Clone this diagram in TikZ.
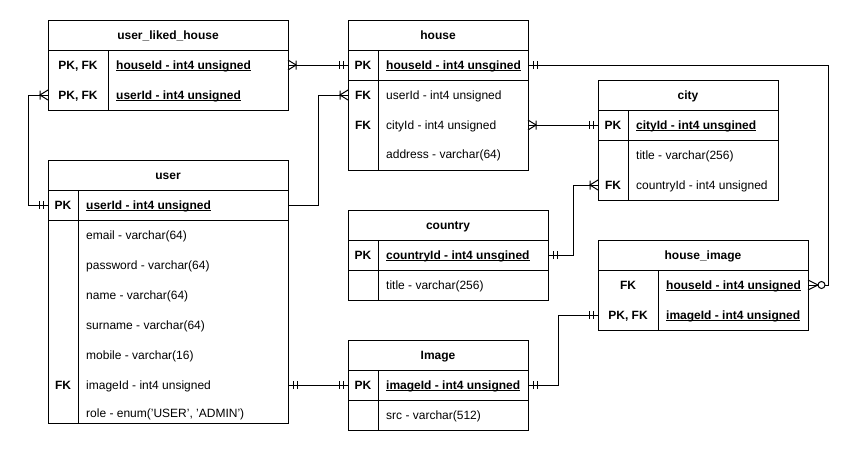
\documentclass[tikz,border=0pt]{standalone}
\usepackage{fontspec}
\setmainfont{Liberation Sans}
\newsavebox\ulbox
\newcommand\ulx[1]{\sbox\ulbox{#1}\rlap{\rule[-1.8pt]{\wd\ulbox}{0.9pt}}\usebox\ulbox}
% field row: #1 name, #2 left, #3 divider, #4 right, #5 centre y, #6 key, #7 text
\newcommand\frow[7]{%
  \node[rowanchor, minimum width={#4pt-#2pt}] (#1) at ({(#2+#4)/2},#5) {};
  \node[keytxt] (#1-k) at ({(#2+#3)/2},{#5+4.5}) {#6};
  \node[fldtxt] (#1-f) at ({#3+8},{#5+4.5}) {#7};}
% title: #1 name, #2 left, #3 right, #4 top, #5 text
\newcommand\ttl[5]{\node[ttltxt] (#1) at ({(#2+#3)/2},{#4+15+4.5}) {#5};}
\newcommand\mOne[2]{\begin{scope}[shift={(#1)},xscale=#2]\draw[mk] (5,-4)--(5,4) (9,-4)--(9,4);\end{scope}}
\newcommand\mMany[2]{\begin{scope}[shift={(#1)},xscale=#2]\draw[mk] (0,-5)--(8,0)--(0,5) (8,-4.5)--(8,4.5);\end{scope}}
\newcommand\mZeroMany[2]{\begin{scope}[shift={(#1)},xscale=#2]\draw[mk] (0,-5)--(10,0)--(0,5);\draw[mk,fill=white] (13.5,0) circle[radius=3.5pt];\end{scope}}
\begin{document}
\begin{tikzpicture}[x=1pt,y=-1pt,
  font=\fontsize{12}{14}\selectfont,
  tbl/.style={draw=black,line width=1pt},
  conn/.style={draw=black,line width=1pt},
  mk/.style={draw=black,line width=1pt},
  rowanchor/.style={rectangle,inner sep=0pt,outer sep=0pt,minimum height=30pt},
  keytxt/.style={anchor=base,inner sep=0pt,font=\fontsize{12}{14}\selectfont\bfseries},
  fldtxt/.style={anchor=base west,inner sep=0pt},
  ttltxt/.style={anchor=base,inner sep=0pt,font=\fontsize{12}{14}\selectfont\bfseries}]
\fill[white] (0,0) rectangle (858,451);
\useasboundingbox (0,0) rectangle (858,451);

% ---- user_liked_house
\draw[tbl] (48,20) rectangle (288,110);
\draw[tbl] (48,50) -- (288,50) (108,50) -- (108,110);
\ttl{ulh}{48}{288}{20}{user\_liked\_house}
\frow{ulh-h}{48}{108}{288}{65}{PK, FK}{\bfseries\ulx{houseId - int4 unsigned}}
\frow{ulh-u}{48}{108}{288}{95}{PK, FK}{\bfseries\ulx{userId - int4 unsigned}}

% ---- house
\draw[tbl] (348,20) rectangle (528,170);
\draw[tbl] (348,50) -- (528,50) (348,80) -- (528,80) (378,50) -- (378,170);
\ttl{house}{348}{528}{20}{house}
\frow{house-h}{348}{378}{528}{65}{PK}{\bfseries\ulx{houseId - int4 unsgined}}
\frow{house-u}{348}{378}{528}{95}{FK}{userId - int4 unsigned}
\frow{house-c}{348}{378}{528}{125}{FK}{cityId - int4 unsigned}
\frow{house-a}{348}{378}{528}{154}{}{address - varchar(64)}

% ---- city
\draw[tbl] (598,80) rectangle (778,200);
\draw[tbl] (598,110) -- (778,110) (598,140) -- (778,140) (628,110) -- (628,200);
\ttl{city}{598}{778}{80}{city}
\frow{city-id}{598}{628}{778}{125}{PK}{\bfseries\ulx{cityId - int4 unsgined}}
\frow{city-t}{598}{628}{778}{155}{}{title - varchar(256)}
\frow{city-co}{598}{628}{778}{185}{FK}{countryId - int4 unsigned}

% ---- user
\draw[tbl] (48,160) rectangle (288,423);
\draw[tbl] (48,190) -- (288,190) (48,220) -- (288,220) (78,190) -- (78,423);
\ttl{user}{48}{288}{160}{user}
\frow{user-id}{48}{78}{288}{205}{PK}{\bfseries\ulx{userId - int4 unsigned}}
\frow{user-e}{48}{78}{288}{235}{}{email - varchar(64)}
\frow{user-p}{48}{78}{288}{265}{}{password - varchar(64)}
\frow{user-n}{48}{78}{288}{295}{}{name - varchar(64)}
\frow{user-s}{48}{78}{288}{325}{}{surname - varchar(64)}
\frow{user-m}{48}{78}{288}{355}{}{mobile - varchar(16)}
\frow{user-img}{48}{78}{288}{385}{FK}{imageId - int4 unsigned}
\frow{user-r}{48}{78}{288}{413}{}{role - enum('USER', 'ADMIN')}

% ---- country
\draw[tbl] (348,210) rectangle (548,300);
\draw[tbl] (348,240) -- (548,240) (348,270) -- (548,270) (378,240) -- (378,300);
\ttl{country}{348}{548}{210}{country}
\frow{country-id}{348}{378}{548}{255}{PK}{\bfseries\ulx{countryId - int4 unsgined}}
\frow{country-t}{348}{378}{548}{285}{}{title - varchar(256)}

% ---- house_image
\draw[tbl] (598,240) rectangle (808,330);
\draw[tbl] (598,270) -- (808,270) (658,270) -- (658,330);
\ttl{hi}{598}{808}{240}{house\_image}
\frow{hi-h}{598}{658}{808}{285}{FK}{\bfseries\ulx{houseId - int4 unsigned}}
\frow{hi-i}{598}{658}{808}{315}{PK, FK}{\bfseries\ulx{imageId - int4 unsigned}}

% ---- Image
\draw[tbl] (348,340) rectangle (528,430);
\draw[tbl] (348,370) -- (528,370) (348,400) -- (528,400) (378,370) -- (378,430);
\ttl{img}{348}{528}{340}{Image}
\frow{img-id}{348}{378}{528}{385}{PK}{\bfseries\ulx{imageId - int4 unsigned}}
\frow{img-s}{348}{378}{528}{415}{}{src - varchar(512)}

% ---- connectors
\draw[conn] (ulh-h.east) -- (house-h.west);
\draw[conn] (ulh-u.west) -- ++(-20,0) |- (user-id.west);
\draw[conn] (user-id.east) -- ++(30,0) |- (house-u.west);
\draw[conn] (house-c.east) -- (city-id.west);
\draw[conn] (country-id.east) -- ++(25,0) |- (city-co.west);
\draw[conn] (house-h.east) -- ++(300,0) |- (hi-h.east);
\draw[conn] (user-img.east) -- (img-id.west);
\draw[conn] (img-id.east) -- ++(30,0) |- (hi-i.west);

% ---- markers
\mMany{ulh-h.east}{1}
\mOne{house-h.west}{-1}
\mMany{ulh-u.west}{-1}
\mOne{user-id.west}{-1}
\mMany{house-u.west}{-1}
\mMany{house-c.east}{1}
\mOne{city-id.west}{-1}
\mOne{country-id.east}{1}
\mMany{city-co.west}{-1}
\mOne{house-h.east}{1}
\mZeroMany{hi-h.east}{1}
\mOne{user-img.east}{1}
\mOne{img-id.west}{-1}
\mOne{img-id.east}{1}
\mOne{hi-i.west}{-1}
\end{tikzpicture}
\end{document}
